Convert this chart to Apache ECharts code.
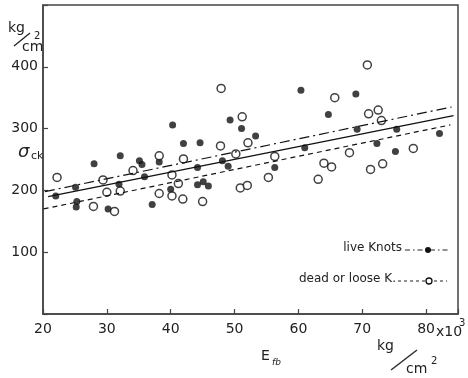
<!DOCTYPE html>
<html><head><meta charset="utf-8">
<script src="https://cdn.jsdelivr.net/npm/echarts@6/dist/echarts.min.js"></script>
<style>html,body{margin:0;padding:0;background:#fff}#c{width:468px;height:378px}</style>
</head><body><div id="c"></div>
<script>
// Live knots (filled) : [E_fb (x10^3 kg/cm2), sigma_ck (kg/cm2)]
const liveX = [40.3,42.0,32.1,28.0,35.1,35.5,38.2,25.1,31.9,35.9,40.0,22.0,25.3,25.2,30.2,37.1,44.2,45.1,45.9,48.1,49.0,44.2,56.3,60.4,49.3,51.1,53.3,44.6,61.0,64.7,69.0,69.2,75.4,82.1,72.3,75.2];
const liveY = [306,276,256,243,248,242,246,205,210,222,202,191,182,173,170,177,209,214,207,248,239,237,237,362,314,300,288,277,269,323,356,299,299,292,276,263];
// Dead or loose knots (open)
const deadX = [38.2,42.0,22.2,34.1,29.4,40.2,30.0,32.1,41.2,38.2,40.2,41.9,27.9,31.2,45.0,47.9,51.2,47.8,52.1,50.2,56.3,55.3,50.9,52.0,64.0,63.1,70.8,65.7,71.0,72.5,73.0,68.0,78.0,65.2,71.3,73.2];
const deadY = [256,251,221,232,217,225,197,199,211,195,191,186,174,166,182,365,319,272,277,259,255,221,204,208,244,218,403,350,324,330,313,261,268,238,234,243];
// Regression lines (endpoints)
const liveLineX = [20.3, 84.0], liveLineY = [198, 335];
const allLineX = [20.8, 84.3], allLineY = [190, 321];
const deadLineX = [20.1, 83.8], deadLineY = [170, 306];
const xTicks = [20,30,40,50,60,70,80];
const yTicks = [100,200,300,400];

const zip = (a,b)=>a.map((v,i)=>[v,b[i]]);
const ink = '#222';
const font = 'DejaVu Sans';
const chart = echarts.init(document.getElementById('c'));
chart.setOption({
  animation:false,
  grid:{left:43,right:10,top:5,bottom:64,show:true,borderColor:'#444',borderWidth:1.5},
  xAxis:{type:'value',min:20,max:85,interval:10,
    axisLine:{show:true,lineStyle:{color:'#444',width:1.5}},
    axisTick:{inside:true,length:5,lineStyle:{color:'#444',width:1.2}},
    splitLine:{show:false},
    axisLabel:{color:ink,fontFamily:font,fontSize:14,margin:8,
      formatter:v=>xTicks.includes(v)?String(v):''}},
  yAxis:{type:'value',min:0,max:500,interval:100,
    axisLine:{show:true,lineStyle:{color:'#444',width:1.5}},
    axisTick:{inside:true,length:5,lineStyle:{color:'#444',width:1.2}},
    splitLine:{show:false},
    axisLabel:{color:ink,fontFamily:font,fontSize:14,margin:5,
      formatter:v=>yTicks.includes(v)?String(v):''}},
  series:[
    {type:'line',data:zip(liveLineX,liveLineY),showSymbol:false,silent:true,
      lineStyle:{color:'#111',width:1.2,type:[10,4,2,4]}},
    {type:'line',data:zip(allLineX,allLineY),showSymbol:false,silent:true,
      lineStyle:{color:'#111',width:1.4,type:'solid'}},
    {type:'line',data:zip(deadLineX,deadLineY),showSymbol:false,silent:true,
      lineStyle:{color:'#111',width:1.2,type:[5,4]}},
    {type:'scatter',name:'live Knots',data:zip(liveX,liveY),symbol:'circle',symbolSize:7,
      itemStyle:{color:'#111'}},
    {type:'scatter',name:'dead or loose K.',data:zip(deadX,deadY),symbol:'circle',symbolSize:8,
      itemStyle:{color:'#fff',borderColor:'#111',borderWidth:1.5}}
  ],
  graphic:[
    // y unit
    {type:'text',left:8,top:21,style:{text:'kg',font:'14px '+font,fill:ink}},
    {type:'line',shape:{x1:14,y1:46,x2:30,y2:33},style:{stroke:ink,lineWidth:1.3}},
    {type:'text',left:34,top:31,style:{text:'2',font:'10px '+font,fill:ink}},
    {type:'text',left:22,top:40,style:{text:'cm',font:'14px '+font,fill:ink}},
    // sigma label
    {type:'text',left:18,top:143,style:{text:'σ',font:'italic 18px '+font,fill:ink}},
    {type:'text',left:31,top:151,style:{text:'ck',font:'11px '+font,fill:ink}},
    // x10^3
    {type:'text',left:436,top:325,style:{text:'x10',font:'14px '+font,fill:ink}},
    {type:'text',left:459,top:318,style:{text:'3',font:'10px '+font,fill:ink}},
    // x title
    {type:'text',left:261,top:349,style:{text:'E',font:'14px '+font,fill:ink}},
    {type:'text',left:272,top:358,style:{text:'fb',font:'italic 9px '+font,fill:ink}},
    // x unit
    {type:'text',left:377,top:339,style:{text:'kg',font:'14px '+font,fill:ink}},
    {type:'line',shape:{x1:391,y1:370,x2:417,y2:350},style:{stroke:ink,lineWidth:1.3}},
    {type:'text',left:406,top:362,style:{text:'cm',font:'14px '+font,fill:ink}},
    {type:'text',left:431,top:356,style:{text:'2',font:'10px '+font,fill:ink}},
    // legend
    {type:'text',right:66,top:242,style:{text:'live Knots',font:'12px '+font,fill:ink}},
    {type:'line',shape:{x1:405,y1:250,x2:448,y2:250},style:{stroke:ink,lineWidth:1,lineDash:[5,3,1.5,3]}},
    {type:'circle',shape:{cx:428,cy:250,r:3},style:{fill:'#111'}},
    {type:'text',right:72,top:273,style:{text:'dead or loose K.',font:'12px '+font,fill:ink}},
    {type:'line',shape:{x1:398,y1:281,x2:447,y2:281},style:{stroke:ink,lineWidth:1,lineDash:[3,3]}},
    {type:'circle',shape:{cx:429,cy:281,r:3},style:{fill:'#fff',stroke:'#111',lineWidth:1.3}}
  ]
});
</script></body></html>
